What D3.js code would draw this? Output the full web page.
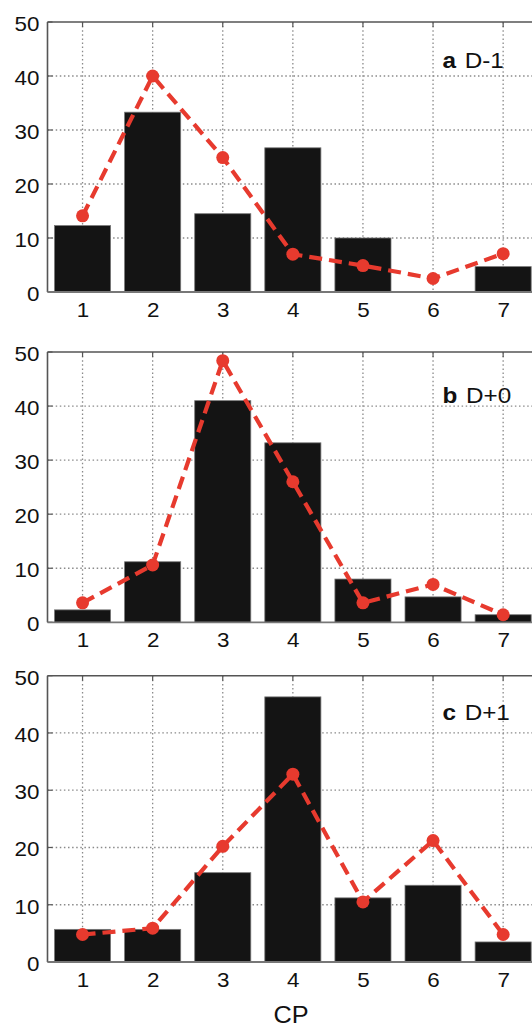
<!DOCTYPE html>
<html>
<head>
<meta charset="utf-8">
<script src="https://cdn.jsdelivr.net/npm/d3@7"></script>
<style>
  html, body { margin: 0; padding: 0; background: #fff; }
  svg { display: block; }
  text { font-family: "Liberation Sans", Arial, Helvetica, sans-serif; fill: #111; }
</style>
</head>
<body>
<svg id="chart" width="532" height="1026"></svg>
<script>
// ---- data ----
const categories = [1, 2, 3, 4, 5, 6, 7];
const yTicks = [0, 10, 20, 30, 40, 50];
const panelLetters = ["a", "b", "c"];
const panelNames = ["D-1", "D+0", "D+1"];
const barsA = [12.3, 33.3, 14.5, 26.7, 10.0, 0, 4.7];
const lineA = [14.1, 40.0, 24.9, 7.0, 4.9, 2.5, 7.1];
const barsB = [2.3, 11.2, 41.0, 33.2, 8.0, 4.7, 1.4];
const lineB = [3.6, 10.6, 48.4, 26.0, 3.6, 7.0, 1.4];
const barsC = [5.7, 5.7, 15.6, 46.3, 11.2, 13.4, 3.5];
const lineC = [4.8, 5.9, 20.2, 32.8, 10.5, 21.2, 4.8];
const xLabel = "CP";

const panels = [
  { letter: panelLetters[0], name: panelNames[0], bars: barsA, line: lineA, top: 22, bottom: 292, labelY: 67.5 },
  { letter: panelLetters[1], name: panelNames[1], bars: barsB, line: lineB, top: 352, bottom: 622.3, labelY: 403 },
  { letter: panelLetters[2], name: panelNames[2], bars: barsC, line: lineC, top: 675.7, bottom: 962, labelY: 720 }
];

const svg = d3.select("#chart");
const left = 47.5, step = 70.1;
const x = d3.scaleLinear().domain([0.5, 7.5]).range([left, left + 7 * step]);
const barW = 0.8 * step;
const red = "#e73a2e";
const SX = 1.12;

panels.forEach(p => {
  const y = d3.scaleLinear().domain([0, 50]).range([p.bottom, p.top]);
  const g = svg.append("g");

  // grid
  g.selectAll(".vg").data(categories).join("line")
    .attr("x1", d => x(d)).attr("x2", d => x(d))
    .attr("y1", y(50)).attr("y2", y(0))
    .attr("stroke", "#8a8a8a").attr("stroke-width", 1.3)
    .attr("stroke-dasharray", "1.5,2.6");
  g.selectAll(".hg").data(yTicks.slice(1, -1)).join("line")
    .attr("x1", x(0.5)).attr("x2", 532)
    .attr("y1", d => y(d)).attr("y2", d => y(d))
    .attr("stroke", "#8a8a8a").attr("stroke-width", 1.3)
    .attr("stroke-dasharray", "1.5,2.6");

  // inward ticks
  g.selectAll(".lt").data(yTicks).join("line")
    .attr("x1", x(0.5)).attr("x2", x(0.5) + 5)
    .attr("y1", d => y(d)).attr("y2", d => y(d))
    .attr("stroke", "#555").attr("stroke-width", 1.2);
  g.selectAll(".tt").data(categories).join("line")
    .attr("x1", d => x(d)).attr("x2", d => x(d))
    .attr("y1", y(50)).attr("y2", y(50) + 5)
    .attr("stroke", "#555").attr("stroke-width", 1.2);

  // bars
  g.selectAll(".bar").data(categories).join("rect")
    .attr("x", (d) => x(d) - barW / 2)
    .attr("width", barW)
    .attr("y", (d, i) => y(p.bars[i]))
    .attr("height", (d, i) => y(0) - y(p.bars[i]))
    .attr("fill", (d, i) => p.bars[i] > 0 ? "#141414" : "none")
    .attr("stroke", (d, i) => p.bars[i] > 0 ? "#777" : "none")
    .attr("stroke-width", 0.8);

  // frame: top and left
  g.append("line").attr("x1", x(0.5)).attr("x2", 532).attr("y1", y(50)).attr("y2", y(50))
    .attr("stroke", "#555").attr("stroke-width", 1.6);
  g.append("line").attr("x1", x(0.5)).attr("x2", x(0.5)).attr("y1", y(50)).attr("y2", y(0))
    .attr("stroke", "#555").attr("stroke-width", 1.6);
  g.append("line").attr("x1", x(0.5)).attr("x2", 532).attr("y1", y(0)).attr("y2", y(0))
    .attr("stroke", "#777").attr("stroke-width", 1.8);

  // line series
  const lineGen = d3.line().x((d, i) => x(categories[i])).y(d => y(d));
  g.append("path").datum(p.line)
    .attr("d", lineGen)
    .attr("fill", "none").attr("stroke", red)
    .attr("stroke-width", 4.2)
    .attr("stroke-dasharray", "13,7")
    .attr("stroke-linejoin", "round");
  g.selectAll(".pt").data(p.line).join("circle")
    .attr("cx", (d, i) => x(categories[i]))
    .attr("cy", d => y(d))
    .attr("r", 6.5)
    .attr("fill", red);

  // y axis labels
  const ya = d3.axisLeft(y).tickValues(yTicks).tickSize(0).tickPadding(0);
  const yg = svg.append("g").attr("transform", `translate(${x(0.5)},0)`).call(ya);
  yg.select(".domain").remove();
  yg.selectAll("text")
    .attr("x", 0).attr("dy", "0.42em")
    .attr("transform", `translate(-8,0) scale(${SX},1)`)
    .style("font-size", "20px").style("font-family", "Liberation Sans, Arial, sans-serif").attr("fill", "#111");

  // x axis labels
  const xa = d3.axisBottom(x).tickValues(categories).tickSize(0).tickPadding(0).tickFormat(d3.format("d"));
  const xg = svg.append("g").attr("transform", `translate(0,${y(0)})`).call(xa);
  xg.select(".domain").remove();
  xg.selectAll("text")
    .attr("y", 0).attr("dy", 0)
    .attr("transform", `translate(0,25) scale(${SX},1)`)
    .style("font-size", "20px").style("font-family", "Liberation Sans, Arial, sans-serif").attr("fill", "#111");

  // panel label
  const lab = svg.append("text")
    .attr("transform", `translate(442.5,${p.labelY}) scale(1.08,1)`)
    .style("font-size", "22.5px");
  lab.append("tspan").text(p.letter).style("font-weight", "bold");
  lab.append("tspan").attr("dx", 8).text(p.name);
});

// x axis title
svg.append("text")
  .attr("transform", `translate(291,1022.7) scale(1.1,1)`)
  .attr("text-anchor", "middle")
  .style("font-size", "23px")
  .text(xLabel);
</script>
</body>
</html>
